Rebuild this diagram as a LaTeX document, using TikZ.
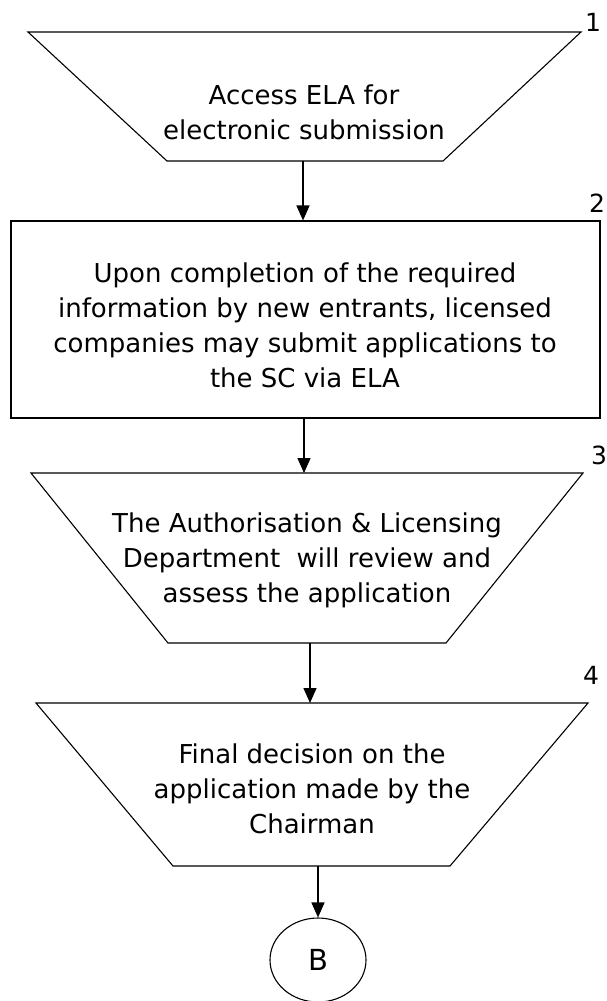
\documentclass[tikz,border=0pt]{standalone}
\usepackage{fontspec}
\setmainfont{DejaVu Sans}
\usetikzlibrary{arrows.meta,shapes.geometric,calc}
\begin{document}
\begin{tikzpicture}[x=1pt,y=-1pt,
  shapebox/.style={draw=none,inner sep=0pt,outer sep=0pt},
  txt/.style={align=center,inner sep=0pt,font=\fontsize{26}{35}\selectfont},
  num/.style={inner sep=0pt,font=\fontsize{25}{30}\selectfont},
  conn/.style={line width=1.5pt,-{Triangle[length=15pt,width=13pt]}},
  outline/.style={line width=1.1pt,line join=miter}]
\useasboundingbox[fill=white] (0,0) rectangle (606,1001);

% step 1
\node[shapebox,minimum width=553pt,minimum height=129pt] (s1) at (304.5,96.5) {};
\draw[outline] (s1.north west) -- (s1.north east) -- ([xshift=-138pt]s1.south east) -- ([xshift=139pt]s1.south west) -- cycle;
\node[txt] (t1) at (304,112) {Access ELA for\\electronic submission};
\node[num] (n1) at (593,22) {1};

% step 2
\node[draw,line width=1.1pt,minimum width=589pt,minimum height=197pt,inner sep=0pt] (s2) at (305.5,319.5) {};
\node[txt] (t2) at (305,325) {Upon completion of the required\\information by new entrants, licensed\\companies may submit applications to\\the SC via ELA};
\node[num] (n2) at (597,203) {2};

% step 3
\node[shapebox,minimum width=552pt,minimum height=170pt] (s3) at (307,558) {};
\draw[outline] (s3.north west) -- (s3.north east) -- ([xshift=-137pt]s3.south east) -- ([xshift=137pt]s3.south west) -- cycle;
\node[txt] (t3) at (307,560) {The Authorisation \& Licensing\\Department\ \ will review and\\assess the application};
\node[num] (n3) at (599,455) {3};

% step 4
\node[shapebox,minimum width=552pt,minimum height=163pt] (s4) at (312,784.5) {};
\draw[outline] (s4.north west) -- (s4.north east) -- ([xshift=-138pt]s4.south east) -- ([xshift=137pt]s4.south west) -- cycle;
\node[txt] (t4) at (312,789) {Final decision on the\\application made by the\\Chairman};
\node[num] (n4) at (591,675) {4};

% connector B
\node[ellipse,draw,line width=1.1pt,minimum width=96pt,minimum height=84pt,inner sep=0pt,font=\fontsize{29}{30}\selectfont] (b) at (318,960) {B};

% arrows
\draw[conn] ([xshift=-1.5pt]s1.south) -- ([xshift=-2.5pt]s2.north);
\draw[conn] ([xshift=-1.5pt]s2.south) -- ([xshift=-3pt]s3.north);
\draw[conn] ([xshift=3pt]s3.south) -- ([xshift=-2pt]s4.north);
\draw[conn] ([xshift=6pt]s4.south) -- (b.north);
\end{tikzpicture}
\end{document}
